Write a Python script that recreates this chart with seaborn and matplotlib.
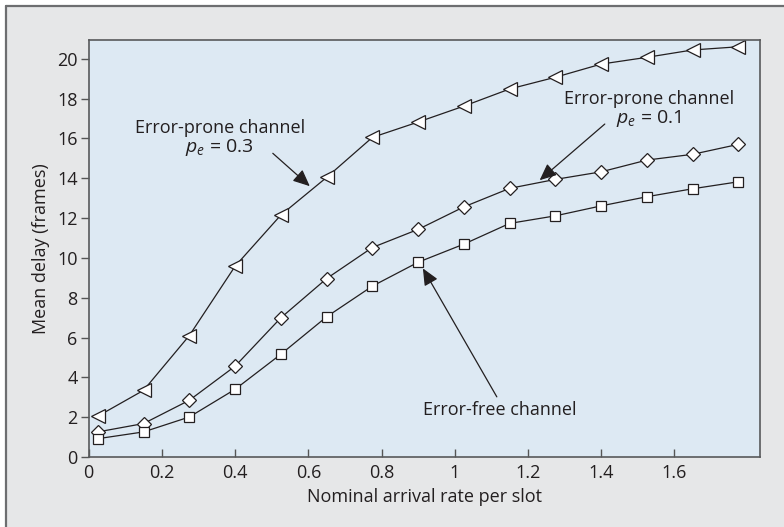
import numpy as np
import pandas as pd
import seaborn as sns
import matplotlib
matplotlib.use("Agg")
import matplotlib.pyplot as plt
from matplotlib.lines import Line2D
from matplotlib.patches import Rectangle

# ---- data ----
arrival_rate = [0.025, 0.15, 0.275, 0.4, 0.525, 0.65, 0.775, 0.9, 1.025,
                1.15, 1.275, 1.4, 1.525, 1.65, 1.775]
delay_pe03 = [2.05, 3.35, 6.1, 9.58, 12.15, 14.04, 16.05, 16.82, 17.62,
              18.48, 19.07, 19.73, 20.07, 20.44, 20.6]
delay_pe01 = [1.26, 1.68, 2.85, 4.56, 6.99, 8.96, 10.52, 11.43, 12.56,
              13.49, 13.94, 14.32, 14.91, 15.2, 15.7]
delay_free = [0.92, 1.26, 2.01, 3.4, 5.16, 7.04, 8.58, 9.78, 10.69,
              11.73, 12.11, 12.61, 13.07, 13.47, 13.82]
series_names = ["pe03", "pe01", "free"]
x_ticks = [0, 0.2, 0.4, 0.6, 0.8, 1, 1.2, 1.4, 1.6]
x_tick_labels = ["0", "0.2", "0.4", "0.6", "0.8", "1", "1.2", "1.4", "1.6"]
y_ticks = list(range(0, 21, 2))

df = pd.DataFrame({
    "x": arrival_rate * 3,
    "y": delay_pe03 + delay_pe01 + delay_free,
    "series": sum([[s] * len(arrival_rate) for s in series_names], []),
})

sns.set_theme(style="white")
plt.rcParams["font.family"] = ["Open Sans", "DejaVu Sans"]
plt.rcParams["mathtext.fontset"] = "custom"
plt.rcParams["mathtext.it"] = "Open Sans:italic"
plt.rcParams["mathtext.rm"] = "Open Sans"

FIG_BG = "#e6e7e8"
AX_BG = "#dde9f3"
INK = "#231f20"
FS = 13

fig = plt.figure(figsize=(7.84, 5.27), dpi=100)
fig.patch.set_facecolor("white")
fig.patches.append(Rectangle((7 / 784, 0), 1, 1 - 7 / 527, transform=fig.transFigure,
                             facecolor=FIG_BG, edgecolor="none", zorder=-10))
fig.lines.append(Line2D([6 / 784, 1], [1 - 6 / 527, 1 - 6 / 527], transform=fig.transFigure,
                        color="#6d6e70", lw=1.6))
fig.lines.append(Line2D([6 / 784, 6 / 784], [0, 1 - 6 / 527], transform=fig.transFigure,
                        color="#6d6e70", lw=1.6))

ax = fig.add_axes([88.7 / 784, 1 - 457 / 527, (760 - 88.7) / 784, (457 - 40) / 527])
ax.set_facecolor(AX_BG)

markers = {"pe03": "<", "pe01": "D", "free": "s"}
sizes = {"pe03": 9.5, "pe01": 7.5, "free": 6.5}
for s in series_names:
    sub = df[df["series"] == s]
    sns.lineplot(data=sub, x="x", y="y", ax=ax, color=INK, lw=0.9,
                 marker=markers[s], markersize=sizes[s], markerfacecolor="white",
                 markeredgecolor=INK, markeredgewidth=0.9, legend=False)

ax.set_xlim(0, 1.834)
ax.set_ylim(0, 20.94)
ax.set_xticks(x_ticks)
ax.set_xticklabels(x_tick_labels)
ax.set_yticks(y_ticks)
ax.tick_params(axis="x", direction="in", length=6, width=1, color="#555555",
               labelsize=FS, labelcolor=INK, pad=5)
ax.tick_params(axis="y", direction="out", length=6, width=1, color="#555555",
               labelsize=FS, labelcolor=INK, pad=2)
ax.tick_params(axis="x", which="both", bottom=True)
ax.tick_params(axis="y", which="both", left=True)
for sp in ax.spines.values():
    sp.set_visible(True)
    sp.set_color("#58595b")
    sp.set_linewidth(1.2)

ax.set_xlabel("Nominal arrival rate per slot", fontsize=FS, color=INK, labelpad=4)
ax.set_ylabel("Mean delay (frames)", fontsize=FS, color=INK, labelpad=5)

arrow = dict(arrowstyle="-|>,head_length=0.85,head_width=0.38", color=INK, lw=0.9,
             shrinkA=0, shrinkB=0)
ax.annotate("", xy=(0.604, 13.6), xytext=(0.503, 15.25), arrowprops=arrow)
ax.text(0.358, 16.5, "Error-prone channel", ha="center", va="center", fontsize=FS, color=INK)
ax.text(0.358, 15.55, r"$p_{e}$ = 0.3", ha="center", va="center", fontsize=FS + 1, color=INK)

ax.annotate("", xy=(1.232, 13.9), xytext=(1.41, 16.72), arrowprops=arrow)
ax.text(1.532, 17.97, "Error-prone channel", ha="center", va="center", fontsize=FS, color=INK)
ax.text(1.53, 17.02, r"$p_{e}$ = 0.1", ha="center", va="center", fontsize=FS + 1, color=INK)

ax.annotate("", xy=(0.913, 9.47), xytext=(1.115, 3.02), arrowprops=arrow)
ax.text(1.123, 2.35, "Error-free channel", ha="center", va="center", fontsize=FS, color=INK)

fig.savefig("out.png", dpi=100, facecolor=fig.get_facecolor())
